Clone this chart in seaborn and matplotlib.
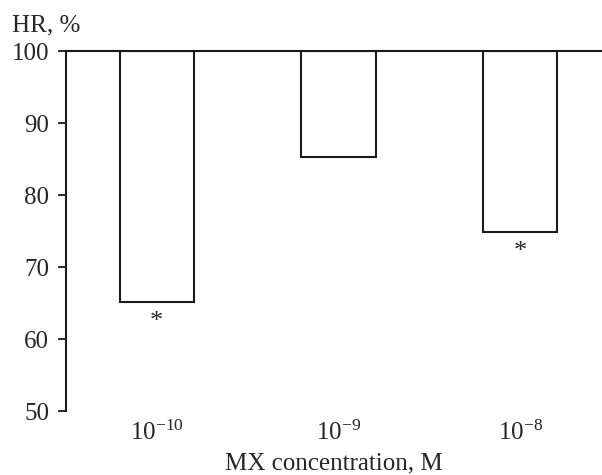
import seaborn as sns
import pandas as pd
import matplotlib.pyplot as plt

# values
concentrations = ["$10^{-10}$", "$10^{-9}$", "$10^{-8}$"]
hr_values = [65.1, 85.3, 74.8]
significant = [True, False, True]

df = pd.DataFrame({"conc": concentrations, "hr": hr_values})
df["drop"] = df["hr"] - 100  # bars hang down from the 100% line

sns.set_style("ticks")
plt.rcParams["font.family"] = ["Liberation Serif", "DejaVu Serif"]
plt.rcParams["mathtext.fontset"] = "custom"
plt.rcParams["mathtext.rm"] = "Liberation Serif"
plt.rcParams["mathtext.it"] = "Liberation Serif:italic"

fig = plt.figure(figsize=(6.02, 4.75), dpi=100)
ax = fig.add_axes([0.1096, 0.1347, 0.8904, 0.7579])

sns.barplot(data=df, x="conc", y="drop", bottom=100, width=0.41,
            color="white", edgecolor="#1a1a1a", linewidth=1.5, ax=ax)

for i, (v, s) in enumerate(zip(hr_values, significant)):
    if s:
        ax.text(i, v - 1.2, "*", ha="center", va="top", fontsize=19)

ax.set_ylim(50, 100)
ax.set_xlim(-0.5, 2.45)
ax.set_yticks([50, 60, 70, 80, 90, 100])
ax.tick_params(axis="y", labelsize=18, length=6, width=1.3, pad=6, color="#1a1a1a")
ax.tick_params(axis="x", labelsize=18, length=0, pad=7)
ax.set_xlabel("MX concentration, M", fontsize=18, labelpad=5)
ax.set_ylabel("")
# y label sits horizontally above the axis
ax.text(-0.10, 102.7, "HR, %", transform=ax.get_yaxis_transform(),
        fontsize=18, ha="left", va="baseline")

for side in ["right", "bottom"]:
    ax.spines[side].set_visible(False)
for side in ["left", "top"]:
    ax.spines[side].set_linewidth(1.5)
    ax.spines[side].set_color("#1a1a1a")

fig.savefig("out.png", dpi=100)
